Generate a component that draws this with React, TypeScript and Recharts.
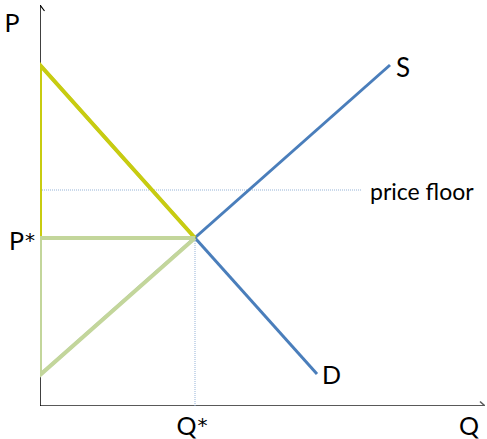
import React from 'react';
import { ComposedChart, Line, XAxis, YAxis, ReferenceDot } from 'recharts';

// Supply and demand curves (quantity q, price p)
const supply = [
  { q: 0, p: 3.1 },
  { q: 35, p: 34.1 },
];
const demand = [
  { q: 0, p: 34.1 },
  { q: 27.7, p: 3.2 },
];

// Market equilibrium and the price floor
const qStar = 15.5;
const pStar = 16.8;
const priceFloor = 21.6;
const floorEnd = 32.2;

// Consumer surplus outline (yellow) and producer surplus outline (green)
const consumerSurplus = [
  { q: 0, p: pStar },
  { q: 0, p: 34.1 },
  { q: qStar, p: pStar },
];
const producerSurplus = [
  { q: qStar, p: pStar },
  { q: 0, p: pStar },
  { q: 0, p: 3.1 },
  { q: qStar, p: pStar },
];

const floorLine = [
  { q: 0, p: priceFloor },
  { q: floorEnd, p: priceFloor },
];
const qStarLine = [
  { q: qStar, p: 0 },
  { q: qStar, p: pStar },
];

const qMax = 44.5;
const pMax = 40.1;

// Axis lines and their arrowheads
const xAxisLine = [
  { q: 0, p: 0 },
  { q: qMax, p: 0 },
];
const yAxisLine = [
  { q: 0, p: 0 },
  { q: 0, p: pMax },
];
const xArrow = [
  { q: qMax - 0.5, p: 0.45 },
  { q: qMax, p: 0 },
  { q: qMax - 0.5, p: -0.45 },
];
const yArrow = [
  { q: -0.45, p: pMax - 0.6 },
  { q: 0, p: pMax },
  { q: 0.45, p: pMax - 0.6 },
];

const FONT = 'Lato, "Open Sans", sans-serif';

const textLabel = (
  text: string,
  dx: number,
  dy: number,
  size: number,
  anchor: 'start' | 'middle' | 'end' = 'start',
  star = false,
) =>
  (props: any) => {
    const vb = props.viewBox || {};
    return (
      <text
        x={(vb.x ?? 0) + dx}
        y={(vb.y ?? 0) + dy}
        fontSize={size}
        fontFamily={FONT}
        fill="#000"
        textAnchor={anchor}
        dominantBaseline="central"
      >
        {text}
        {star && (
          <tspan fontFamily='"DejaVu Sans", sans-serif' fontSize={size * 0.8} dx={1}>
            *
          </tspan>
        )}
      </text>
    );
  };

const plain = { dot: false, isAnimationActive: false, legendType: 'none' as const };

export default function App() {
  return (
    <div style={{ position: 'absolute', left: 0, top: 0, width: 487, height: 439, background: '#fff' }}>
      <ComposedChart width={487} height={439} margin={{ top: 5, right: 2, bottom: 33, left: 40 }}>
        <XAxis type="number" dataKey="q" domain={[0, qMax]} hide allowDataOverflow />
        <YAxis type="number" dataKey="p" domain={[0, pMax]} hide allowDataOverflow />

        {/* axes */}
        <Line data={xAxisLine} dataKey="p" stroke="#595959" strokeWidth={2} {...plain} />
        <Line data={xArrow} dataKey="p" stroke="#595959" strokeWidth={1.5} {...plain} />
        <Line data={yAxisLine} dataKey="p" stroke="#000" strokeWidth={1.5} {...plain} />
        <Line data={yArrow} dataKey="p" stroke="#000" strokeWidth={1.2} {...plain} />

        {/* dotted guides */}
        <Line data={floorLine} dataKey="p" stroke="#95b3d7" strokeWidth={1} strokeDasharray="1 1" {...plain} />
        <Line data={qStarLine} dataKey="p" stroke="#95b3d7" strokeWidth={1} strokeDasharray="1 1" {...plain} />

        {/* supply and demand */}
        <Line data={supply} dataKey="p" stroke="#4a7ebb" strokeWidth={3} {...plain} />
        <Line data={demand} dataKey="p" stroke="#4a7ebb" strokeWidth={3} {...plain} />

        {/* surplus outlines */}
        <Line data={consumerSurplus} dataKey="p" stroke="#c8cc10" strokeWidth={4} strokeLinejoin="miter" {...plain} />
        <Line data={producerSurplus} dataKey="p" stroke="#c3d69b" strokeWidth={4} strokeLinejoin="miter" {...plain} />

        {/* labels */}
        <ReferenceDot x={35} y={34.1} r={0} ifOverflow="visible" label={textLabel('S', 6, 2, 26)} />
        <ReferenceDot x={27.7} y={3.2} r={0} ifOverflow="visible" label={textLabel('D', 5, 0, 25)} />
        <ReferenceDot x={floorEnd} y={priceFloor} r={0} ifOverflow="visible" label={textLabel('price floor', 8, 1, 23)} />
        <ReferenceDot x={0} y={pStar} r={0} ifOverflow="visible" label={textLabel('P', -5, 2, 25, 'end', true)} />
        <ReferenceDot x={qStar} y={0} r={0} ifOverflow="visible" label={textLabel('Q', -3, 19, 25, 'middle', true)} />
        <ReferenceDot x={0} y={pMax} r={0} ifOverflow="visible" label={textLabel('P', -28, 17, 25, 'middle')} />
        <ReferenceDot x={qMax} y={0} r={0} ifOverflow="visible" label={textLabel('Q', -16, 19, 25, 'middle')} />
      </ComposedChart>
    </div>
  );
}
